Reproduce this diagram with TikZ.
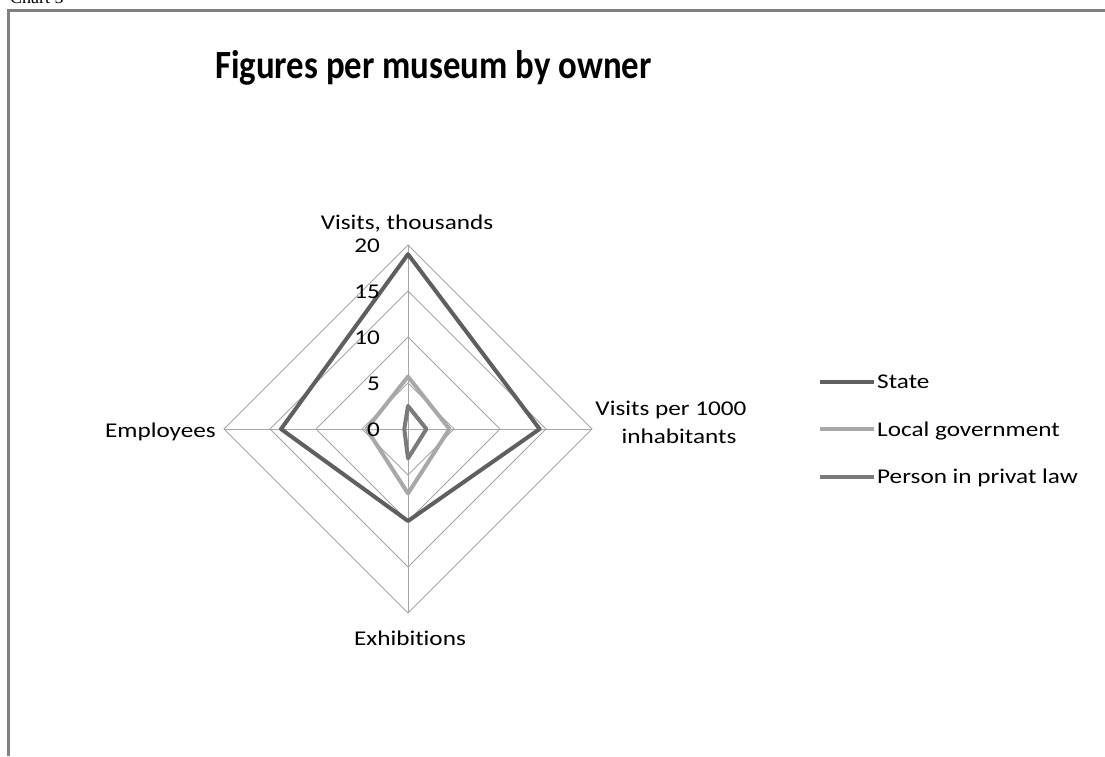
\documentclass[tikz,border=0pt]{standalone}
\usepackage{fontspec}
\setmainfont[Ligatures=NoCommon]{Carlito}
\newfontfamily\lblfont[FakeStretch=1.2,Ligatures=NoCommon]{Carlito}
\newfontfamily\ttlfont[FakeStretch=0.87,Ligatures=NoCommon]{Carlito}
\newfontfamily\capfont{Liberation Serif}
\definecolor{framegray}{HTML}{808080}
\definecolor{gridgray}{HTML}{A6A6A6}
\definecolor{stategray}{HTML}{5F5F5F}
\definecolor{localgray}{HTML}{A8A8A8}
\definecolor{privgray}{HTML}{7A7A7A}
\tikzset{
  gridline/.style={draw=gridgray, line width=0.9pt},
  series/.style={line width=4pt, line join=round, line cap=round},
  lbl/.style={inner sep=0pt, font=\lblfont\fontsize{21}{25}\selectfont, text=black},
  tick/.style={lbl, anchor=base east},
  legline/.style={line width=4pt},
}
\begin{document}
\begin{tikzpicture}[x=1pt,y=-1pt]
\useasboundingbox (0,0) rectangle (1105,756);
\fill[white] (0,0) rectangle (1105,756);
% frame
\draw[framegray, line width=3pt] (8.5,756) -- (8.5,10) -- (1106,10);
\node[anchor=base west, inner sep=0pt, font=\capfont\fontsize{18}{20}\selectfont] (cap) at (10,3) {Chart 5};
% title
\node[anchor=base west, inner sep=0pt, font=\ttlfont\bfseries\fontsize{40}{48}\selectfont] (title) at (215,78) {Figures per museum by owner};
% grid
\coordinate (C) at (408,429);
\foreach \r in {46,92,138,184} {
  \draw[gridline] (408,429-\r) -- (408+\r,429) -- (408,429+\r) -- (408-\r,429) -- cycle;
}
\coordinate (T) at (408,245);
\coordinate (R) at (592,429);
\coordinate (B) at (408,613);
\coordinate (L) at (224,429);
\draw[gridline] (C) -- (T) (C) -- (R) (C) -- (B) (C) -- (L);
% series
\draw[series, stategray] (408,254.2) -- (539.6,429) -- (408,521) -- (281,429) -- cycle;
\draw[series, localgray] (408,376.6) -- (449.4,429) -- (408,493.4) -- (366.6,429) -- cycle;
\draw[series, privgray] (408,406) -- (426.4,429) -- (408,458.4) -- (404.3,429) -- cycle;
% ticks
\node[tick] (t20) at (380,252) {20};
\node[tick] (t15) at (380,298) {15};
\node[tick] (t10) at (380,344) {10};
\node[tick] (t5) at (380,390) {5};
\node[tick] (t0) at (380,436) {0};
% axis labels
\node[lbl, anchor=base] (ax1) at (407,229) {Visits, thousands};
\node[lbl, anchor=base] (ax2a) at (671,415.5) {Visits per 1000};
\node[lbl, anchor=base] (ax2b) at (679,443.5) {inhabitants};
\node[lbl, anchor=base] (ax3) at (410,645) {Exhibitions};
\node[lbl, anchor=base east] (ax4) at (216,437) {Employees};
% legend
\coordinate (l1a) at (820,381.5); \coordinate (l1b) at (874,381.5);
\coordinate (l2a) at (820,429);   \coordinate (l2b) at (874,429);
\coordinate (l3a) at (820,476.5); \coordinate (l3b) at (874,476.5);
\draw[legline, stategray] (l1a) -- (l1b);
\draw[legline, localgray] (l2a) -- (l2b);
\draw[legline, privgray] (l3a) -- (l3b);
\node[lbl, anchor=base west] (leg1) at (877,388.5) {State};
\node[lbl, anchor=base west] (leg2) at (877,436) {Local government};
\node[lbl, anchor=base west] (leg3) at (877,483.5) {Person in privat law};
\end{tikzpicture}
\end{document}
